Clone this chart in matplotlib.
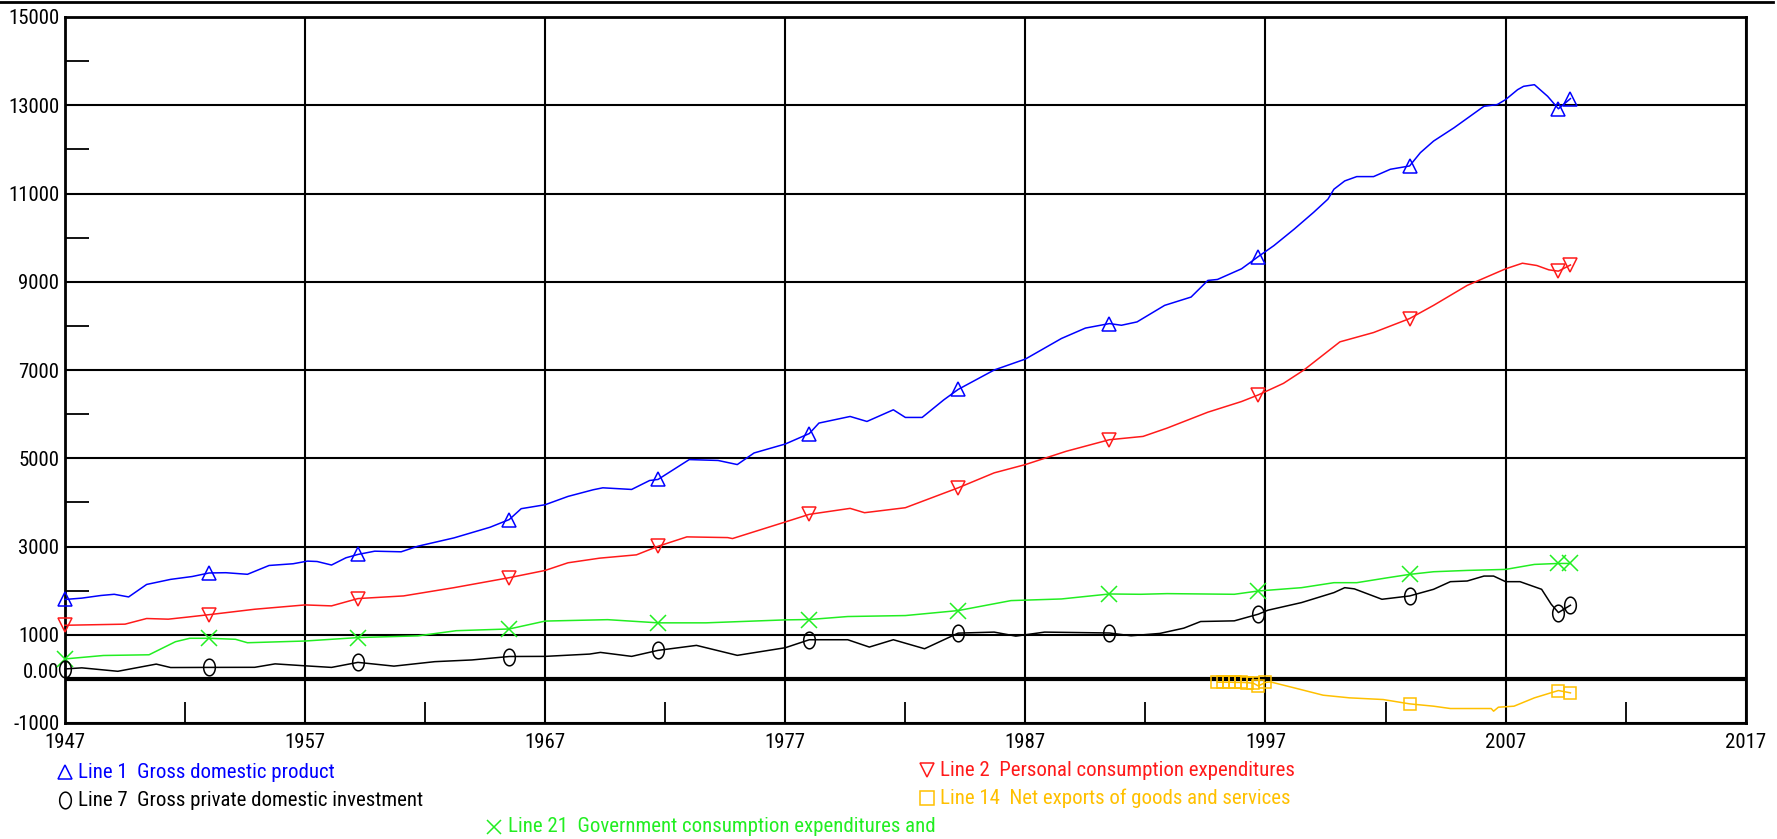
import numpy as np
import matplotlib
matplotlib.use('Agg')
import matplotlib.pyplot as plt
import matplotlib.transforms as mtransforms
from matplotlib import font_manager
from matplotlib.lines import Line2D

# the original uses a narrow sans; pick the narrowest one available
installed = {f.name for f in font_manager.fontManager.ttflist}
if 'Liberation Sans Narrow' in installed:
    fam, fs = 'Liberation Sans Narrow', 15.5
elif 'Roboto Condensed' in installed:
    fam, fs = 'Roboto Condensed', 15
elif 'DejaVu Sans Condensed' in installed:
    fam, fs = 'DejaVu Sans Condensed', 13
else:
    fam, fs = 'Liberation Sans', 13.5
plt.rcParams['font.family'] = [fam, 'DejaVu Sans']

# years where the series carry a marker
marker_years = [1947.0, 1953.0, 1959.2, 1965.5, 1971.7, 1978.0, 1984.2,
                1990.5, 1996.7, 2003.0, 2009.2, 2009.7]

gdp_years = [1947.0, 1947.7, 1948.5, 1949.05, 1949.65, 1950.4, 1951.4, 1952.3, 1953.0, 1953.7,
             1954.6, 1955.5, 1956.5, 1957.1, 1957.5, 1958.1, 1958.7, 1959.2, 1959.9, 1961.0,
             1961.7, 1963.2, 1964.7, 1965.5, 1966.0, 1967.0, 1967.95, 1969.0, 1969.4, 1970.6,
             1971.35, 1971.7, 1973.0, 1974.2, 1975.0, 1975.7, 1977.0, 1978.0, 1978.4, 1979.7,
             1980.4, 1981.5, 1982.0, 1982.7, 1983.6, 1984.2, 1985.7, 1987.0, 1988.5, 1989.5,
             1990.5, 1991.0, 1991.65, 1992.8, 1993.9, 1994.6, 1995.0, 1996.0, 1996.7, 1997.35,
             1998.2, 1999.0, 1999.6, 1999.85, 2000.3, 2000.8, 2001.5, 2002.2, 2003.0, 2003.45,
             2004.0, 2004.85, 2006.1, 2006.65, 2007.0, 2007.5, 2007.75, 2008.2, 2008.75, 2009.2,
             2009.7]
gdp_vals = [1800, 1830, 1890, 1917, 1857, 2140, 2255, 2320, 2400, 2406,
            2370, 2570, 2609, 2669, 2660, 2580, 2744, 2820, 2894, 2880,
            3007, 3195, 3436, 3610, 3857, 3947, 4135, 4286, 4330, 4293,
            4496, 4520, 4970, 4950, 4857, 5120, 5323, 5560, 5797, 5947,
            5834, 6098, 5925, 5925, 6323, 6560, 7000, 7248, 7714, 7950,
            8052, 8014, 8090, 8465, 8653, 9030, 9052, 9293, 9571, 9819,
            10195, 10571, 10872, 11097, 11285, 11383, 11383, 11549, 11624, 11925,
            12188, 12489, 12977, 13015, 13128, 13353, 13429, 13466, 13203, 12920,
            13150]

pce_years = [1947.0, 1949.5, 1950.4, 1951.3, 1952.1, 1953.0, 1954.9, 1957.0, 1958.1, 1959.2,
             1961.1, 1963.2, 1965.5, 1967.0, 1967.95, 1969.27, 1970.8, 1971.7, 1972.9, 1974.6,
             1974.8, 1977.0, 1978.0, 1979.7, 1980.3, 1982.0, 1984.2, 1985.7, 1987.0, 1988.7,
             1990.5, 1991.9, 1992.9, 1994.6, 1996.0, 1996.7, 1997.75, 1998.6, 2000.1, 2001.5,
             2003.0, 2004.0, 2005.4, 2007.0, 2007.7, 2008.3, 2008.8, 2009.2, 2009.7]
pce_vals = [1215, 1240, 1368, 1353, 1400, 1455, 1578, 1676, 1654, 1820,
            1880, 2067, 2293, 2458, 2631, 2736, 2811, 3005, 3218, 3202,
            3180, 3556, 3729, 3864, 3766, 3879, 4330, 4669, 4857, 5158,
            5420, 5495, 5683, 6044, 6285, 6435, 6698, 7000, 7638, 7849,
            8165, 8465, 8917, 9293, 9420, 9368, 9270, 9240, 9380]

inv_years = [1947.0, 1947.7, 1949.2, 1950.8, 1951.4, 1953.0, 1954.9, 1955.75, 1957.0, 1958.1,
             1959.2, 1960.7, 1962.4, 1963.95, 1965.5, 1967.0, 1968.85, 1969.3, 1970.6, 1971.7,
             1973.3, 1975.0, 1977.0, 1978.0, 1979.6, 1980.5, 1981.5, 1982.8, 1984.2, 1985.7,
             1986.6, 1987.8, 1990.5, 1991.4, 1992.6, 1993.6, 1994.3, 1995.7, 1996.7, 1997.1,
             1998.5, 1999.85, 2000.3, 2000.7, 2001.85, 2003.0, 2004.0, 2004.7, 2005.4, 2006.1,
             2006.5, 2007.0, 2007.6, 2008.5, 2008.9, 2009.2, 2009.7]
inv_vals = [225, 250, 172, 335, 257, 260, 262, 340, 296, 260,
            374, 289, 390, 429, 507, 510, 562, 600, 510, 646,
            759, 533, 706, 887, 887, 721, 887, 683, 1037, 1060,
            969, 1060, 1040, 977, 1030, 1150, 1300, 1315, 1466, 1556,
            1729, 1955, 2067, 2040, 1804, 1879, 2030, 2203, 2218, 2330,
            2330, 2203, 2203, 2030, 1691, 1503, 1669]

gov_years = [1947.0, 1948.6, 1950.5, 1951.6, 1952.2, 1953.0, 1954.1, 1954.6, 1957.0, 1959.2,
             1961.7, 1963.3, 1965.5, 1967.0, 1969.6, 1971.7, 1973.7, 1977.0, 1978.0, 1979.6,
             1982.0, 1984.2, 1986.4, 1988.5, 1990.5, 1991.8, 1992.9, 1995.7, 1996.7, 1998.5,
             1999.85, 2000.8, 2002.1, 2003.0, 2004.0, 2005.4, 2007.0, 2008.2, 2009.2, 2009.7]
gov_vals = [452, 530, 546, 842, 920, 920, 897, 819, 858, 936,
            975, 1092, 1131, 1310, 1342, 1270, 1270, 1337, 1345, 1413,
            1435, 1548, 1774, 1811, 1924, 1917, 1932, 1917, 1992, 2067,
            2180, 2180, 2293, 2368, 2428, 2458, 2481, 2594, 2616, 2616]

nx_years = [1995.0, 1995.25, 1995.5, 1995.75, 1996.0, 1996.25, 1996.5, 1996.7, 1997.0, 1997.2,
            1998.2, 1999.4, 2000.5, 2001.9, 2003.0, 2004.0, 2004.7, 2006.4, 2006.5, 2006.7,
            2007.35, 2008.2, 2009.2, 2009.7]
nx_vals = [-75, -75, -75, -80, -80, -85, -100, -160, -80, -68,
           -204, -370, -430, -468, -566, -619, -672, -672, -732, -642,
           -619, -430, -264, -317]
nx_marker_years = [1995.0, 1995.25, 1995.5, 1995.75, 1996.0, 1996.25, 1996.5, 1996.7, 1997.0,
                   2003.0, 2009.2, 2009.7]

x_ticks = list(range(1947, 2018, 10))
y_ticks = [-1000, 0, 1000, 3000, 5000, 7000, 9000, 11000, 13000, 15000]
y_labels = ['-1000', '0.00', '1000', '3000', '5000', '7000', '9000', '11000', '13000', '15000']

legend_items = [
    ('Line 1  Gross domestic product', '#0000ff', '^', 65, 772, 78),
    ('Line 7  Gross private domestic investment', '#000000', 'ell', 65, 800, 78),
    ('Line 21  Government consumption expenditures and', '#22ee22', 'x', 494, 827, 508),
    ('Line 2  Personal consumption expenditures', '#ff1a1a', 'v', 927, 770, 940),
    ('Line 14  Net exports of goods and services', '#ffc000', 's', 927, 798, 940),
]

W, H = 1777, 839
t = np.linspace(0, 2 * np.pi, 40)
ellipse = list(zip(0.7 * np.cos(t), np.sin(t)))

fig = plt.figure(figsize=(W / 100, H / 100), dpi=100)
ax = fig.add_axes([65 / W, (H - 723) / H, (1745.7 - 65) / W, 706 / H])

ax.set_xlim(1947, 2017)
ax.set_ylim(-1000, 15000)
ax.set_xticks(x_ticks)
ax.set_yticks(y_ticks, labels=y_labels)
ax.set_xticks(list(range(1952, 2017, 10)), minor=True)
ax.set_yticks(list(range(2000, 15000, 2000)), minor=True)
ax.grid(True, which='major', color='black', lw=1.5)
ax.set_axisbelow(True)
ax.axhline(0, color='black', lw=3, zorder=1)
ax.tick_params(which='major', length=0, labelsize=fs, pad=4)
ax.tick_params(axis='x', which='major', pad=7)
ax.tick_params(which='minor', direction='in', length=15, width=1.3, color='black')
ax.tick_params(axis='y', which='minor', length=17)
for s in ax.spines.values():
    s.set_linewidth(2)

# "0.00" sits a little above its line in the original
for lbl in ax.get_yticklabels():
    if lbl.get_text() == '0.00':
        lbl.set_transform(lbl.get_transform() +
                          mtransforms.ScaledTranslation(0, 0.08, fig.dpi_scale_trans))


def mark_idx(years, marks):
    return [i for i, y in enumerate(years) if any(abs(y - m) < 1e-6 for m in marks)]


series = [
    (gdp_years, gdp_vals, '#0000ff', '^', marker_years, 10),
    (pce_years, pce_vals, '#ff1a1a', 'v', marker_years, 10),
    (gov_years, gov_vals, '#22ee22', 'x', marker_years, 11),
    (inv_years, inv_vals, '#000000', ellipse, marker_years, 12),
    (nx_years, nx_vals, '#ffc000', 's', nx_marker_years, 9),
]
for yrs, vals, col, mk, marks, ms in series:
    ax.plot(yrs, vals, color=col, lw=1.1, marker=mk, markevery=mark_idx(yrs, marks),
            mfc='none', mec=col, ms=ms, mew=1.1, clip_on=False, zorder=3)

# frame line along the very top of the image
fig.add_artist(Line2D([0, 0.998], [0.998, 0.998], transform=fig.transFigure,
                      color='black', lw=2))

for label, col, mk, mx, my, tx in legend_items:
    m = ellipse if mk == 'ell' else mk
    fig.add_artist(Line2D([mx / W], [1 - my / H], transform=fig.transFigure, marker=m,
                          ms=12 if mk == 'ell' else 10, mfc='none', mec=col, mew=1.1, ls='none'))
    fig.text(tx / W, 1 - my / H, label, color=col, fontsize=fs, va='center', ha='left')

fig.savefig('out.png', dpi=100)
